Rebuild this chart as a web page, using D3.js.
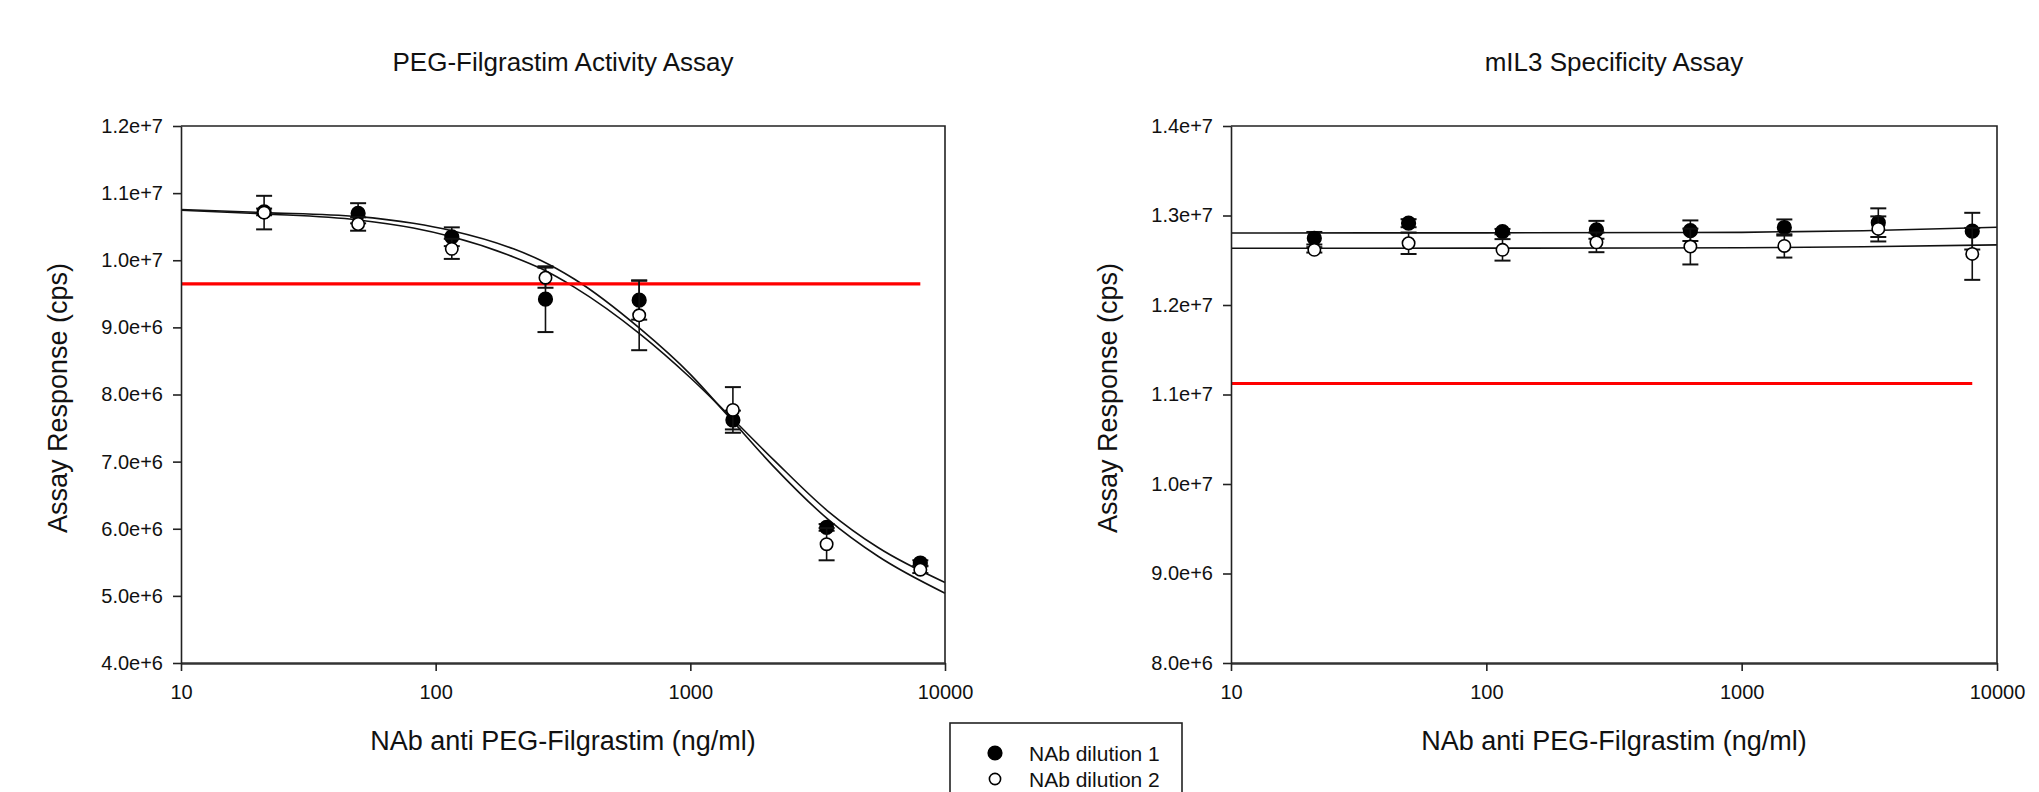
<!DOCTYPE html>
<html>
<head>
<meta charset="utf-8">
<script src="https://cdn.jsdelivr.net/npm/d3@7"></script>
<style>
body { margin: 0; background: #fff; }
text { font-family: "Liberation Sans", Arial, sans-serif; fill: #111; }
</style>
</head>
<body>
<svg id="chart" width="2039" height="792"></svg>
<script>
// doses of NAb (ng/ml), same for both assays
var doses = [21.2, 49.6, 115.7, 269.9, 629.7, 1469.4, 3428.6, 8000];
var xTicks = [10, 100, 1000, 10000];

// PEG-Filgrastim activity assay (cps)
var actDil1 = [10.72e6, 10.70e6, 10.35e6, 9.42e6, 9.405e6, 7.62e6, 6.02e6, 5.49e6];
var actDil1Err = [0.05e6, 0.15e6, 0.14e6, 0.49e6, 0.29e6, 0.14e6, 0.05e6, 0.04e6];
var actDil2 = [10.71e6, 10.54e6, 10.17e6, 9.74e6, 9.18e6, 7.77e6, 5.77e6, 5.39e6];
var actDil2Err = [0.25e6, 0.10e6, 0.15e6, 0.15e6, 0.52e6, 0.34e6, 0.24e6, 0.05e6];
// fitted curves
var actFitX = [10, 21.2, 49.6, 81.7, 115.7, 202, 258, 350, 635, 1000, 1393, 2120, 3475, 5458, 10000];
var actFitA = [10.755e6, 10.71e6, 10.65e6, 10.55e6, 10.44e6, 10.17e6, 10.00e6, 9.72e6, 8.98e6, 8.30e6, 7.70e6, 6.93e6, 6.14e6, 5.59e6, 5.04e6];
var actFitB = [10.745e6, 10.69e6, 10.60e6, 10.48e6, 10.35e6, 10.05e6, 9.88e6, 9.60e6, 8.90e6, 8.25e6, 7.72e6, 7.03e6, 6.26e6, 5.72e6, 5.20e6];
var actCutoff = 9.647e6;
var actYTicks = [4e6, 5e6, 6e6, 7e6, 8e6, 9e6, 10e6, 11e6, 12e6];

// mIL3 specificity assay (cps)
var spDil1 = [12.746e6, 12.914e6, 12.82e6, 12.84e6, 12.83e6, 12.866e6, 12.92e6, 12.825e6];
var spDil1Err = [0.07e6, 0.045e6, 0.03e6, 0.10e6, 0.115e6, 0.09e6, 0.16e6, 0.205e6];
var spDil2 = [12.616e6, 12.69e6, 12.616e6, 12.70e6, 12.653e6, 12.66e6, 12.85e6, 12.571e6];
var spDil2Err = [0.03e6, 0.12e6, 0.12e6, 0.11e6, 0.20e6, 0.13e6, 0.14e6, 0.29e6];
var spFitX = [10, 100, 1000, 3000, 10000];
var spFitA = [12.805e6, 12.806e6, 12.812e6, 12.83e6, 12.868e6];
var spFitB = [12.634e6, 12.635e6, 12.64e6, 12.65e6, 12.672e6];
var spCutoff = 11.123e6;
var spYTicks = [8e6, 9e6, 10e6, 11e6, 12e6, 13e6, 14e6];

var seriesNames = ["NAb dilution 1", "NAb dilution 2"];

var svg = d3.select("#chart");
var top_y = 126, bottom_y = 663;
var fmt = d3.format(".1e");

function draw_panel(opt) {
	var x = d3.scaleLog().domain([10, 10000]).range([opt.left, opt.right]);
	var y = d3.scaleLinear().domain(opt.ydom).range([bottom_y, top_y]);
	var g = svg.append("g");

	// title
	g.append("text")
		.attr("x", (opt.left + opt.right) / 2).attr("y", 71)
		.attr("text-anchor", "middle").style("font-size", "26px")
		.text(opt.title);

	// fitted curves
	var line = d3.line().x(d => x(d[0])).y(d => y(d[1])).curve(d3.curveMonotoneX);
	[opt.fitA, opt.fitB].forEach(f => {
		g.append("path")
			.datum(opt.fitX.map((v, i) => [v, f[i]]))
			.attr("d", line)
			.attr("fill", "none").attr("stroke", "#111").attr("stroke-width", 1.6);
	});

	// cut point line
	g.append("line")
		.attr("x1", x(10)).attr("x2", x(8000))
		.attr("y1", y(opt.cutoff)).attr("y2", y(opt.cutoff))
		.attr("stroke", "#f00").attr("stroke-width", 3.2);

	// error bars + markers, dilution 1 first, dilution 2 on top
	[[opt.dil1, opt.err1, true], [opt.dil2, opt.err2, false]].forEach(s => {
		var pts = doses.map((d, i) => ({x: d, y: s[0][i], e: s[1][i]}));
		var eb = g.append("g").attr("stroke", "#111");
		pts.forEach(p => {
			eb.append("line").attr("x1", x(p.x)).attr("x2", x(p.x))
				.attr("y1", y(p.y - p.e)).attr("y2", y(p.y + p.e)).attr("stroke-width", 1.6);
			[p.y - p.e, p.y + p.e].forEach(v => {
				eb.append("line").attr("x1", x(p.x) - 8).attr("x2", x(p.x) + 8)
					.attr("y1", y(v)).attr("y2", y(v)).attr("stroke-width", 2);
			});
		});
		g.append("g").selectAll("circle").data(pts).enter().append("circle")
			.attr("cx", p => x(p.x)).attr("cy", p => y(p.y))
			.attr("r", s[2] ? 6.8 : 6.2)
			.attr("fill", s[2] ? "#000" : "#fff")
			.attr("stroke", "#000").attr("stroke-width", 1.6);
	});

	// frame
	g.append("path")
		.attr("d", "M" + opt.left + "," + top_y + "H" + opt.right + "V" + bottom_y)
		.attr("fill", "none").attr("stroke", "#222").attr("stroke-width", 1.6);

	var ax = g.append("g").attr("transform", "translate(0," + bottom_y + ")")
		.call(d3.axisBottom(x).tickValues(xTicks).tickFormat(d3.format("d")).tickSize(8).tickSizeOuter(0).tickPadding(14));
	ax.select(".domain").attr("stroke", "#333").attr("stroke-width", 2.6);
	ax.selectAll(".tick line").attr("stroke", "#222").attr("stroke-width", 1.6);
	ax.selectAll(".tick text").style("font-size", "20px").attr("fill", "#111");

	var ay = g.append("g").attr("transform", "translate(" + opt.left + ",0)")
		.call(d3.axisLeft(y).tickValues(opt.yticks).tickFormat(fmt).tickSize(8).tickSizeOuter(0).tickPadding(10));
	ay.select(".domain").attr("stroke", "#222").attr("stroke-width", 1.6);
	ay.selectAll(".tick line").attr("stroke", "#222").attr("stroke-width", 1.6);
	ay.selectAll(".tick text").style("font-size", "20px").attr("fill", "#111");

	// axis titles
	g.append("text")
		.attr("x", (opt.left + opt.right) / 2).attr("y", 750)
		.attr("text-anchor", "middle").style("font-size", "27px")
		.text("NAb anti PEG-Filgrastim (ng/ml)");
	g.append("text")
		.attr("transform", "translate(" + (opt.left - 114) + ",398) rotate(-90)")
		.attr("text-anchor", "middle").style("font-size", "27px")
		.text("Assay Response (cps)");
}

draw_panel({title: "PEG-Filgrastim Activity Assay", left: 181, right: 945, ydom: [4e6, 12e6],
	yticks: actYTicks, dil1: actDil1, err1: actDil1Err, dil2: actDil2, err2: actDil2Err,
	fitX: actFitX, fitA: actFitA, fitB: actFitB, cutoff: actCutoff});
draw_panel({title: "mIL3 Specificity Assay", left: 1231, right: 1997, ydom: [8e6, 14e6],
	yticks: spYTicks, dil1: spDil1, err1: spDil1Err, dil2: spDil2, err2: spDil2Err,
	fitX: spFitX, fitA: spFitA, fitB: spFitB, cutoff: spCutoff});

// legend
var leg = svg.append("g");
leg.append("rect").attr("x", 950).attr("y", 723).attr("width", 232).attr("height", 100)
	.attr("fill", "#fff").attr("stroke", "#222").attr("stroke-width", 1.6);
seriesNames.forEach((n, i) => {
	leg.append("circle").attr("cx", 995).attr("cy", 753 + i * 26)
		.attr("r", i == 0 ? 6.8 : 5.6)
		.attr("fill", i == 0 ? "#000" : "#fff")
		.attr("stroke", "#000").attr("stroke-width", 1.6);
	leg.append("text").attr("x", 1029).attr("y", 760.5 + i * 26)
		.style("font-size", "21px").text(n);
});
</script>
</body>
</html>
